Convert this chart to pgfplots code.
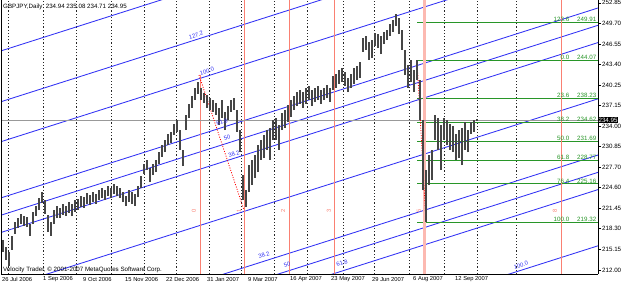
\documentclass[border=0pt]{standalone}
\usepackage{fontspec}
\setmainfont{Liberation Sans}
\usepackage{pgfplots}
\pgfplotsset{compat=1.18}
\usepackage{pgfplotstable}
\definecolor{chblue}{RGB}{50,50,245}
\definecolor{chgreen}{RGB}{40,150,40}
\definecolor{salmon}{RGB}{250,128,114}
\definecolor{barcol}{RGB}{70,70,70}
\newcommand{\sm}{\fontsize{6.2}{7}\selectfont}
\newcommand{\smd}{\fontsize{5.8}{7}\selectfont}

\pgfplotstableread{
x hi lo
3 216.58 214.75
6 215.51 213.53
9 214.75 212.61
12 217.20 215.06
15 219.34 217.50
18 219.95 218.42
21 220.56 219.03
24 220.25 218.73
27 220.10 218.57
30 219.03 217.20
33 220.87 219.03
36 221.78 220.25
39 223.01 221.17
42 223.92 222.24
45 222.70 220.56
48 220.41 217.81
51 219.34 217.20
54 221.17 219.03
57 221.78 219.95
60 221.48 219.95
63 222.09 220.41
66 221.78 220.25
69 222.39 220.71
72 222.09 220.25
75 222.70 220.87
78 222.85 221.17
81 223.31 221.63
84 223.16 221.48
87 223.77 222.09
90 223.46 221.94
93 223.92 222.39
96 223.62 222.09
99 224.23 222.70
102 224.54 223.01
105 224.23 222.70
108 224.84 223.31
111 224.54 223.01
114 225.15 223.62
117 224.84 223.31
120 224.54 223.01
123 223.92 222.39
126 223.31 221.78
129 224.23 222.39
132 223.92 222.09
135 223.62 221.78
138 224.84 223.16
141 226.37 224.54
144 228.20 226.68
147 228.82 227.29
150 227.59 225.45
153 228.20 226.52
156 228.82 226.98
159 230.04 228.20
162 231.11 229.28
165 231.87 230.04
168 232.79 231.11
171 233.10 231.42
174 234.32 232.64
177 234.93 233.10
180 233.40 230.35
183 230.35 227.90
186 235.70 233.40
189 237.38 235.24
192 238.60 236.77
195 239.83 237.99
198 240.74 238.91
201 239.83 237.99
204 239.06 237.53
207 238.75 236.77
210 238.30 236.46
213 237.99 236.16
216 237.53 235.70
219 236.77 234.17
222 237.99 235.24
225 236.16 233.40
228 237.07 234.93
231 237.99 236.16
234 238.30 236.46
237 236.46 233.10
240 233.40 230.04
243 226.52 222.70
246 224.23 221.63
249 228.05 223.92
252 228.82 224.99
255 229.58 226.06
258 231.11 226.98
261 231.87 228.82
264 232.64 229.12
267 233.40 230.35
270 233.71 228.82
273 234.93 231.87
276 235.24 231.87
279 234.17 230.35
282 236.00 233.40
285 236.46 233.71
288 237.23 234.63
291 237.99 235.39
294 238.60 236.46
297 239.21 237.07
300 239.52 237.38
303 239.21 236.77
306 239.83 237.38
309 240.13 237.99
312 239.52 237.07
315 239.83 237.68
318 240.13 237.99
321 239.52 237.38
324 239.83 237.99
327 240.28 238.30
330 239.83 237.68
333 241.66 239.52
336 241.97 239.83
339 242.58 240.44
342 242.88 240.74
345 242.27 240.13
348 241.35 239.21
351 241.97 239.83
354 242.88 240.44
357 243.19 241.05
360 243.80 241.35
363 247.47 245.33
366 247.78 245.64
369 246.86 244.11
372 247.16 244.41
375 248.23 246.25
378 248.08 245.94
381 247.78 245.02
384 248.39 246.55
387 248.69 247.17
390 249.61 247.78
393 250.22 248.39
396 251.14 249.31
399 250.53 248.08
402 248.69 245.64
405 245.64 241.81
408 243.34 239.83
411 244.11 240.74
414 242.58 239.21
417 244.07 241.05
420 241.05 234.93
423 234.93 224.23
426 227.29 219.32
429 229.58 224.99
432 230.35 225.76
435 235.70 231.87
438 235.24 230.35
441 234.17 227.29
444 235.24 231.87
447 234.93 231.11
450 234.32 230.35
453 234.02 230.04
456 232.79 228.82
459 233.40 229.12
462 233.71 228.05
465 234.63 230.35
468 233.40 230.04
471 234.63 232.79
474 234.93 233.10
477 235.08 234.71
}\bars

\begin{document}
\begin{tikzpicture}[x=1pt,y=1pt]
\path[use as bounding box, fill=white] (0,0) rectangle (625,286);
\begin{axis}[
  at={(1pt,12pt)}, anchor=south west, scale only axis,
  width=597pt, height=274pt,
  xmin=1, xmax=598, ymin=211.39, ymax=253.28,
  axis x line*=bottom, axis y line*=right,
  axis line style={-, black, line width=0.7pt},
  xtick=\empty,
  extra x ticks={8,43,76,111,144,176,209,241,274,307,343,374,409,444,477,516},
  extra x tick labels={},
  extra x tick style={grid=major, major tick length=0pt},
  major grid style={black!85, line width=0.5pt, dash pattern=on 1.2pt off 2pt},
  ytick={212,215.15,218.30,221.45,224.60,227.70,230.85,234.00,237.15,240.25,243.40,246.55,249.70,252.85},
  yticklabels={212.00,215.15,218.30,221.45,224.60,227.70,230.85,234.00,237.15,240.25,243.40,246.55,249.70,252.85},
  yticklabel style={font=\sm, anchor=west, inner sep=1pt, xshift=0pt},
  tick align=outside, major tick length=3pt,
  ytick style={black, line width=0.6pt},
  clip=true,
]
% fib channel lines (blue)
\addplot[chblue, line width=0.85pt] coordinates {(0,245.45) (598,274.53)};
\addplot[chblue, line width=0.85pt] coordinates {(0,237.68) (598,266.76)};
\addplot[chblue, line width=0.85pt] coordinates {(0,231.57) (598,260.65)};
\addplot[chblue, line width=0.85pt] coordinates {(0,222.98) (598,252.06)};
\addplot[chblue, line width=0.85pt] coordinates {(0,220.33) (598,249.41)};
\addplot[chblue, line width=0.85pt] coordinates {(0,217.69) (598,246.77)};
\addplot[chblue, line width=0.85pt] coordinates {(0,209.09) (598,238.17)};
\addplot[chblue, line width=0.85pt] coordinates {(0,200.50) (598,229.58)};
\addplot[chblue, line width=0.85pt] coordinates {(0,197.85) (598,226.93)};
\addplot[chblue, line width=0.85pt] coordinates {(0,195.21) (598,224.29)};
\addplot[chblue, line width=0.85pt] coordinates {(0,186.62) (598,215.70)};
% fib retracement levels (green)
\addplot[chgreen, line width=0.85pt] coordinates {(417,249.91) (598,249.91)};
\addplot[chgreen, line width=0.85pt] coordinates {(417,244.07) (598,244.07)};
\addplot[chgreen, line width=0.85pt] coordinates {(417,238.23) (598,238.23)};
\addplot[chgreen, line width=0.85pt] coordinates {(417,234.62) (598,234.62)};
\addplot[chgreen, line width=0.85pt] coordinates {(417,231.69) (598,231.69)};
\addplot[chgreen, line width=0.85pt] coordinates {(417,228.77) (598,228.77)};
\addplot[chgreen, line width=0.85pt] coordinates {(417,225.16) (598,225.16)};
\addplot[chgreen, line width=0.85pt] coordinates {(417,219.32) (598,219.32)};
% fib time zones (salmon)
\addplot[salmon, line width=0.85pt] coordinates {(200,211.39) (200,241.81)};
\addplot[salmon, line width=0.85pt] coordinates {(244,211.39) (244,253.28)};
\addplot[salmon, line width=0.85pt] coordinates {(289,211.39) (289,253.28)};
\addplot[salmon, line width=0.85pt] coordinates {(334,211.39) (334,253.28)};
\addplot[salmon!55, line width=2.6pt] coordinates {(424.5,211.39) (424.5,253.28)};
\addplot[salmon, line width=0.85pt] coordinates {(561,211.39) (561,253.28)};
% bid line
\addplot[gray!80, line width=0.6pt] coordinates {(1,234.95) (598,234.95)};
% trend lines (red dotted)
\addplot[red, line width=0.8pt, dash pattern=on 1pt off 1.5pt] coordinates {(199,241.81) (244,221.17)};
\addplot[red, line width=0.8pt, dash pattern=on 1pt off 1.5pt] coordinates {(417,244.07) (426,219.32)};
% price bars
\addplot[draw=none, mark=none, forget plot,
  error bars/.cd, y dir=plus, y explicit, error mark=none,
  error bar style={draw=barcol, line width=1.3pt, solid}]
  table[x=x, y=lo, y error plus expr={\thisrow{hi}-\thisrow{lo}}] {\bars};
% green labels
\foreach \lv/\pr in {123.6/249.91, 0.0/244.07, 23.6/238.23, 38.2/234.62, 50.0/231.69, 61.8/228.77, 76.4/225.16, 100.0/219.32}{
  \edef\tmp{\noexpand\node[font=\noexpand\sm, text=chgreen, anchor=south east, inner sep=0.6pt] at (axis cs:570,\pr) {\lv};
  \noexpand\node[font=\noexpand\sm, text=chgreen, anchor=south east, inner sep=0.6pt] at (axis cs:597,\pr) {\pr};}
  \tmp
}
\draw[black, line width=0.7pt] (rel axis cs:0,0) -- (rel axis cs:0,1);
\end{axis}
\begin{scope}[yshift=286pt, y=-1pt]
  \node[font=\sm, anchor=west, inner sep=0pt] at (3,7) {GBPJPY,Daily\ \ 234.94 235.08 234.71 234.95};
  \node[font=\sm, anchor=west, inner sep=0pt] at (3,269.5) {Velocity Trader, © 2001-2007 MetaQuotes Software Corp.};
  \foreach \xx/\dd in {2/26 Jul 2006, 43/1 Sep 2006, 83/9 Oct 2006, 125/15 Nov 2006, 166/22 Dec 2006, 207/31 Jan 2007, 248/9 Mar 2007, 290/16 Apr 2007, 331/23 May 2007, 372/29 Jun 2007, 413/6 Aug 2007, 455/12 Sep 2007}{
    \node[font=\smd, anchor=west, inner sep=0pt] at (\xx,279.5) {\dd};
  }
  % channel labels
  \foreach \xx/\yy/\tt in {196/35/127.2, 207/71/100.0, 222/122/61.8, 227/138/50, 234/154/38.2, 264/255/38.2, 287/265/50, 342/263/61.8, 521/265/100.0}{
    \node[font=\smd, text=chblue, rotate=17.6, inner sep=0pt] at (\xx,\yy) {\tt};
  }
  % time zone labels
  \foreach \xx/\tt in {194/0, 239/1, 283/2, 329/3, 419/5, 555/8}{
    \node[font=\smd, text=salmon, rotate=90, inner sep=0pt] at (\xx,211) {\tt};
  }
  \node[font=\sm, fill=black, text=white, anchor=west, inner sep=0.9pt] at (597.5,120) {234.95};
\end{scope}
\end{tikzpicture}
\end{document}
